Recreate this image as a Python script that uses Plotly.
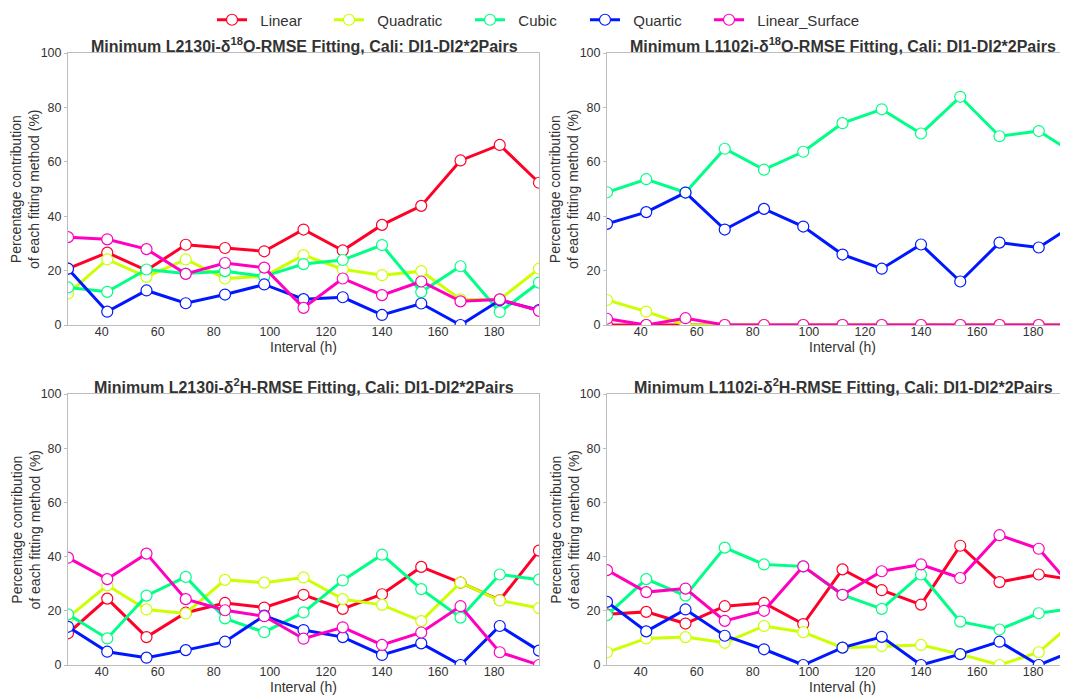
import plotly.graph_objects as go

intervals = [28, 42, 56, 70, 84, 98, 112, 126, 140, 154, 168, 182, 196]
methods = ["Linear", "Quadratic", "Cubic", "Quartic", "Linear_Surface"]
colors = ["#ff0029", "#ccff00", "#00ff86", "#0018ff", "#ff00bf"]
legend_widths = [72, 96, 70, 79, 105]

# Panel 1: L2130i d18O
p1_linear = [20.7, 26.6, 20.1, 29.5, 28.3, 27.1, 35.1, 27.4, 36.8, 43.8, 60.5, 66.2, 52.3]
p1_quadratic = [11.6, 24.1, 17.7, 24.1, 17.1, 17.9, 25.7, 20.5, 18.3, 19.8, 9.4, 9.4, 20.7]
p1_cubic = [13.8, 12.2, 20.4, 18.9, 19.8, 17.9, 22.4, 23.9, 29.4, 12.1, 21.6, 4.8, 15.6]
p1_quartic = [20.7, 4.9, 12.7, 8.0, 11.2, 14.9, 9.5, 10.2, 3.7, 7.9, 0.0, 9.1, 5.5]
p1_surface = [32.3, 31.5, 27.9, 18.8, 22.8, 21.1, 6.3, 17.1, 11.0, 16.0, 8.7, 9.4, 5.2]

# Panel 2: L1102i d18O
p2_linear = [0, 0, 0, 0, 0, 0, 0, 0, 0, 0, 0, 0, 0]
p2_quadratic = [9.2, 4.9, 0, 0, 0, 0, 0, 0, 0, 0, 0, 0, 0]
p2_cubic = [48.8, 53.6, 48.7, 64.8, 57.1, 63.7, 74.2, 79.3, 70.4, 83.9, 69.4, 71.3, 62.2]
p2_quartic = [37.2, 41.5, 48.7, 35.1, 42.7, 36.2, 25.9, 20.7, 29.6, 16.0, 30.3, 28.5, 37.8]
p2_surface = [2.3, 0, 2.5, 0, 0, 0, 0, 0, 0, 0, 0, 0, 0]

# Panel 3: L2130i d2H
p3_linear = [11.7, 24.5, 10.3, 19.3, 22.9, 21.2, 25.9, 20.7, 26.1, 36.2, 30.4, 23.9, 42.2]
p3_quadratic = [17.5, 29.4, 20.5, 19.0, 31.4, 30.4, 32.3, 24.3, 22.2, 16.2, 30.4, 23.8, 21.0]
p3_cubic = [18.7, 9.8, 25.6, 32.5, 17.2, 12.1, 19.4, 31.2, 40.7, 28.0, 17.5, 33.4, 31.5]
p3_quartic = [14.1, 4.9, 2.7, 5.5, 8.6, 18.2, 12.9, 10.3, 3.7, 8.0, 0.0, 14.4, 5.3]
p3_surface = [39.6, 31.7, 41.1, 24.3, 20.2, 18.0, 9.7, 13.9, 7.4, 12.0, 21.7, 4.7, 0.0]

# Panel 4: L1102i d2H
p4_linear = [18.7, 19.6, 15.3, 21.7, 22.9, 15.1, 35.3, 27.6, 22.3, 44.0, 30.6, 33.4, 31.2]
p4_quadratic = [4.7, 9.8, 10.3, 8.2, 14.4, 12.1, 6.4, 7.0, 7.4, 4.0, 0.0, 4.7, 17.4]
p4_cubic = [18.4, 31.7, 25.6, 43.3, 37.1, 36.4, 25.9, 20.7, 33.4, 16.0, 13.1, 19.1, 21.1]
p4_quartic = [23.3, 12.4, 20.5, 10.8, 5.8, 0.0, 6.4, 10.4, 0.0, 4.0, 8.6, 0.0, 5.8]
p4_surface = [35.0, 26.9, 28.2, 16.3, 20.0, 36.4, 25.9, 34.6, 37.1, 32.1, 47.9, 42.9, 26.2]

titles = [
    "Minimum L2130i-δ<sup>18</sup>O-RMSE Fitting, Cali: DI1-DI2*2Pairs",
    "Minimum L1102i-δ<sup>18</sup>O-RMSE Fitting, Cali: DI1-DI2*2Pairs",
    "Minimum L2130i-δ<sup>2</sup>H-RMSE Fitting, Cali: DI1-DI2*2Pairs",
    "Minimum L1102i-δ<sup>2</sup>H-RMSE Fitting, Cali: DI1-DI2*2Pairs",
]
panels = [
    [p1_linear, p1_quadratic, p1_cubic, p1_quartic, p1_surface],
    [p2_linear, p2_quadratic, p2_cubic, p2_quartic, p2_surface],
    [p3_linear, p3_quadratic, p3_cubic, p3_quartic, p3_surface],
    [p4_linear, p4_quadratic, p4_cubic, p4_quartic, p4_surface],
]

OFF = 8  # default page body margin
W, H = 1068 - OFF, 696 - OFF
FONT = "Liberation Sans, Arial, sans-serif"
TXT = "#333333"
AX = "#bdbdbd"
NB = "\u00a0"

# pixel layout (page coordinates)
left_x = (68, 539)
right_x = (607, 1068)
top_y = (53, 325)
bot_y = (394, 665)
px_per_unit = (left_x[1] - left_x[0]) / 168.0
right_max = 28 + (right_x[1] - right_x[0]) / px_per_unit

def px(v):
    return (v - OFF) / W

def py(v):
    return 1 - (v - OFF) / H

boxes = [
    (left_x, top_y, [28, 196]),
    (right_x, top_y, [28, right_max]),
    (left_x, bot_y, [28, 196]),
    (right_x, bot_y, [28, right_max]),
]

fig = go.Figure()
for i, series in enumerate(panels):
    xa = "x" if i == 0 else f"x{i+1}"
    ya = "y" if i == 0 else f"y{i+1}"
    for j, vals in enumerate(series):
        fig.add_trace(go.Scatter(
            x=intervals, y=vals, mode="lines+markers",
            name=NB * 2 + methods[j],
            legendgroup=methods[j], showlegend=(i == 0),
            legendwidth=legend_widths[j],
            line=dict(color=colors[j], width=3),
            marker=dict(symbol="circle", size=11, color="white",
                        line=dict(color=colors[j], width=1.2)),
            xaxis=xa, yaxis=ya,
        ))

layout = dict(
    width=W, height=H, margin=dict(l=0, r=0, t=0, b=0, autoexpand=False),
    paper_bgcolor="white", plot_bgcolor="white",
    font=dict(family=FONT, size=14, color=TXT),
    showlegend=True,
    legend=dict(orientation="h", x=px(212), xanchor="left", y=py(20),
                yanchor="middle", font=dict(size=15, color=TXT),
                bgcolor="rgba(0,0,0,0)"),
)
annotations = []
for i, (xx, yy, xr) in enumerate(boxes):
    k = "" if i == 0 else str(i + 1)
    layout["xaxis" + k] = dict(
        domain=[px(xx[0]), px(xx[1])], range=xr, anchor="y" + k,
        tickvals=[40, 60, 80, 100, 120, 140, 160, 180],
        showline=True, linecolor=AX, linewidth=1, mirror=True,
        showgrid=False, zeroline=False, ticks="", ticklabelstandoff=-5,
        tickfont=dict(size=12.5, color=TXT), automargin=False,
    )
    layout["yaxis" + k] = dict(
        domain=[py(yy[1]), py(yy[0])], range=[0, 100], anchor="x" + k,
        tickvals=[0, 20, 40, 60, 80, 100],
        showline=True, linecolor=AX, linewidth=1, mirror=True,
        showgrid=False, zeroline=False, ticks="outside", ticklen=3,
        tickcolor=AX, tickfont=dict(size=12.5, color=TXT), automargin=False,
    )
    cx = xx[0] + 236
    annotations.append(dict(
        text="<b>" + titles[i] + "</b>", x=px(cx), y=py(yy[0] - 8),
        xref="paper", yref="paper", xanchor="center", yanchor="middle",
        showarrow=False, font=dict(size=16, color=TXT, family=FONT),
    ))
    annotations.append(dict(
        text="Interval (h)", x=px(xx[0] + 235), y=py(yy[1] + 22),
        xref="paper", yref="paper", xanchor="center", yanchor="middle",
        showarrow=False, font=dict(size=14, color=TXT, family=FONT),
    ))
    annotations.append(dict(
        text="Percentage contribution<br>of each fitting method (%)",
        x=px(xx[0] - 43), y=py((yy[0] + yy[1]) / 2),
        xref="paper", yref="paper", xanchor="center", yanchor="middle",
        textangle=-90, showarrow=False,
        font=dict(size=14, color=TXT, family=FONT),
    ))
layout["annotations"] = annotations
fig.update_layout(**layout)
fig.write_html("out.html")
